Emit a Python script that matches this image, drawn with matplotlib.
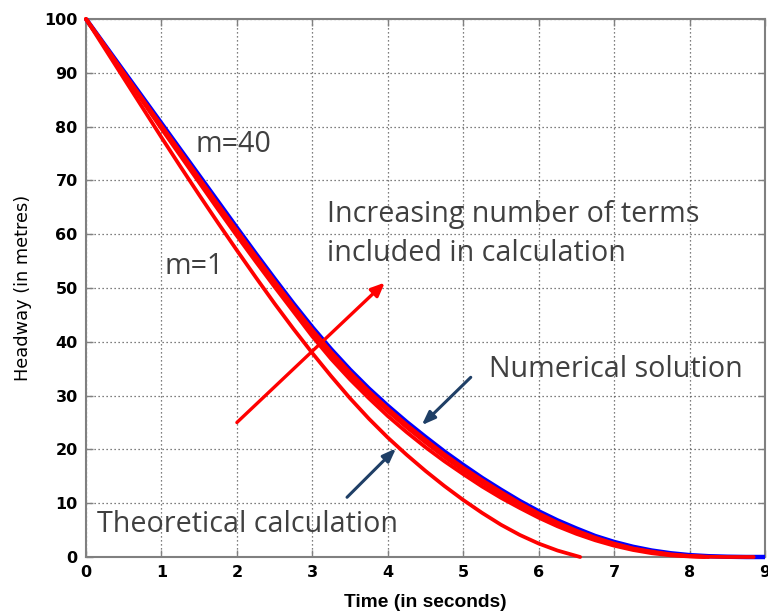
import matplotlib
matplotlib.use("Agg")
import matplotlib.pyplot as plt

# ---- data ----
time = [0, 0.25, 0.5, 0.75, 1.0, 1.25, 1.5, 1.75, 2.0, 2.25, 2.5, 2.75, 3.0, 3.25, 3.5, 3.75,
        4.0, 4.25, 4.5, 4.75, 5.0, 5.25, 5.5, 5.75, 6.0, 6.25, 6.5, 6.75, 7.0, 7.25, 7.5, 7.75,
        8.0, 8.25, 8.5, 8.75, 9.0]
numerical = [100, 95.15, 90.3, 85.45, 80.6, 75.75, 70.9, 66.05, 61.2, 56.4, 51.7, 47.1, 42.7,
             38.6, 34.8, 31.3, 28.1, 25.1, 22.3, 19.6, 17.1, 14.7, 12.5, 10.4, 8.5, 6.8, 5.3,
             3.9, 2.8, 1.9, 1.2, 0.7, 0.35, 0.15, 0.05, 0.0, 0.0]

time_m40 = time[:36] + [8.85]
theory_m40 = [100, 95.0, 90.0, 85.1, 80.2, 75.3, 70.4, 65.5, 60.7, 55.9, 51.2, 46.6, 42.2, 38.1,
              34.3, 30.8, 27.6, 24.6, 21.8, 19.1, 16.6, 14.3, 12.1, 10.0, 8.1, 6.4, 4.9, 3.6,
              2.5, 1.6, 1.0, 0.5, 0.2, 0.05, 0.0, 0.0, 0.0]

time_m10 = time[:34]
theory_m10 = [100, 95.0, 89.9, 84.9, 79.9, 74.9, 70.0, 65.1, 60.2, 55.4, 50.7, 46.1, 41.7, 37.6,
              33.8, 30.3, 27.1, 24.1, 21.3, 18.6, 16.1, 13.8, 11.6, 9.6, 7.8, 6.2, 4.7, 3.4,
              2.3, 1.5, 0.9, 0.4, 0.15, 0.0]

time_m5 = time[:33] + [8.2]
theory_m5 = [100, 94.9, 89.8, 84.7, 79.6, 74.6, 69.6, 64.6, 59.7, 54.9, 50.2, 45.6, 41.0, 36.8,
             33.0, 29.5, 26.2, 23.2, 20.4, 17.8, 15.4, 13.1, 11.0, 9.1, 7.3, 5.7, 4.3, 3.1,
             2.1, 1.3, 0.7, 0.3, 0.1, 0.0]

time_m1 = time[:27] + [6.55]
theory_m1 = [100, 94.5, 89.0, 83.5, 78.0, 72.6, 67.3, 62.1, 57.0, 52.0, 47.1, 42.4, 37.9, 33.6,
             29.5, 25.7, 22.2, 19.0, 16.0, 13.2, 10.6, 8.2, 6.0, 4.1, 2.5, 1.2, 0.2, 0.0]

xticks = [0, 1, 2, 3, 4, 5, 6, 7, 8, 9]
yticks = [0, 10, 20, 30, 40, 50, 60, 70, 80, 90, 100]

# ---- figure ----
fig = plt.figure(figsize=(7.68, 6.11), dpi=100)
ax = fig.add_axes([86/768, 1-557/611, (765-86)/768, (557-19)/611])

ax.plot(time, numerical, color='#0000ff', lw=3.2, clip_on=False, zorder=3,
        solid_capstyle='butt')
for tt, vv in [(time_m40, theory_m40), (time_m10, theory_m10), (time_m5, theory_m5),
               (time_m1, theory_m1)]:
    ax.plot(tt, vv, color='#ff0000', lw=2.7, clip_on=False, zorder=4,
            solid_capstyle='round')

ax.set_xlim(0, 9)
ax.set_ylim(0, 100)
ax.set_xticks(xticks)
ax.set_yticks(yticks)
ax.set_xticklabels([str(v) for v in xticks], fontfamily='DejaVu Sans', fontweight='bold',
                   fontsize=11.5)
ax.set_yticklabels([str(v) for v in yticks], fontfamily='DejaVu Sans', fontweight='bold',
                   fontsize=11.5)
ax.tick_params(direction='in', length=5, width=1, color='#808080', top=True, right=True,
               pad=6)
for s in ax.spines.values():
    s.set_color('#808080')
    s.set_linewidth(1.5)
ax.grid(True, color='#555555', linestyle=(0, (1, 2.2)), linewidth=0.9)
ax.set_axisbelow(True)

ax.set_xlabel('Time (in seconds)', fontfamily='Liberation Sans', fontweight='bold',
              fontsize=13.8, labelpad=10)
ax.set_ylabel('Headway (in metres)', fontfamily='DejaVu Sans', fontsize=12.8,
              labelpad=9)

tc = '#404040'
tf = 'Open Sans'
fs = 20.6
ax.text(1.45, 76.6, 'm=40', fontsize=fs, color=tc, fontfamily=tf, va='center', ha='left')
ax.text(1.04, 54.0, 'm=1', fontsize=fs, color=tc, fontfamily=tf, va='center', ha='left')
ax.text(3.2, 63.6, 'Increasing number of terms', fontsize=fs, color=tc, fontfamily=tf,
        va='center', ha='left')
ax.text(3.2, 56.5, 'included in calculation', fontsize=fs, color=tc, fontfamily=tf,
        va='center', ha='left')
ax.text(5.34, 34.8, 'Numerical solution', fontsize=fs, color=tc, fontfamily=tf,
        va='center', ha='left')
ax.text(0.15, 6.0, 'Theoretical calculation', fontsize=fs, color=tc, fontfamily=tf,
        va='center', ha='left')

ax.annotate('', xy=(3.96, 51.0), xytext=(2.0, 25.0),
            arrowprops=dict(arrowstyle='-|>,head_length=0.8,head_width=0.35', color='#ff0000',
                            lw=2.4, shrinkA=0, shrinkB=0), zorder=5)
navy = '#1f3f66'
ax.annotate('', xy=(4.45, 24.5), xytext=(5.10, 33.4),
            arrowprops=dict(arrowstyle='-|>,head_length=0.8,head_width=0.3', color=navy,
                            lw=2.2, shrinkA=0, shrinkB=0), zorder=5)
ax.annotate('', xy=(4.11, 20.2), xytext=(3.46, 11.1),
            arrowprops=dict(arrowstyle='-|>,head_length=0.8,head_width=0.3', color=navy,
                            lw=2.2, shrinkA=0, shrinkB=0), zorder=5)

fig.savefig('out.png', dpi=100)
